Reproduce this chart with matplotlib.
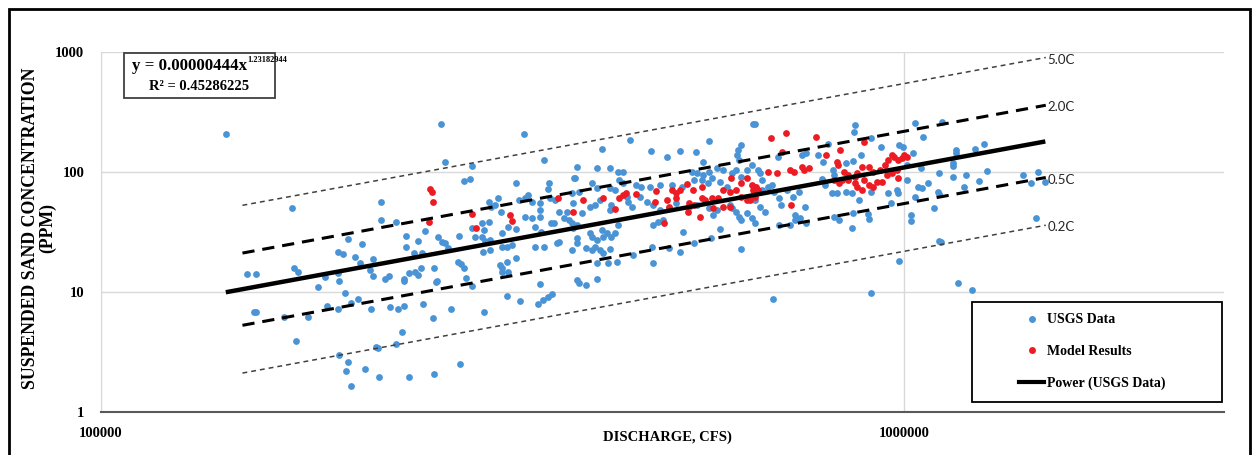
import numpy as np
import matplotlib.pyplot as plt
from matplotlib.patches import Rectangle
from matplotlib.lines import Line2D

# discharge in thousand cfs, concentration in ppm
usgs_q = np.array([
    143, 173, 152, 156, 174, 176, 186, 190, 197, 198, 197, 200, 203, 207, 211, 210, 216, 218, 218, 223,
    223, 226, 228, 155, 156, 169, 181, 175, 191, 197, 201, 205, 209, 217, 229, 198, 203, 202, 205, 213,
    220, 221, 222, 233, 237, 242, 260, 280, 259, 273, 252, 300, 290, 234, 238, 238, 261, 265, 336, 268,
    290, 356, 283, 288, 329, 361, 360, 388, 233, 240, 240, 248, 253, 263, 266, 268, 279, 245, 251, 270,
    238, 242, 246, 248, 250, 260, 262, 278, 281, 283, 285, 320, 332, 350, 355, 360, 364, 352, 290, 292,
    298, 300, 304, 298, 301, 305, 299, 305, 316, 316, 320, 321, 325, 329, 337, 344, 352, 347, 353, 347,
    356, 369, 372, 363, 366, 372, 380, 377, 367, 362, 340, 337, 331, 344, 352, 352, 312, 304, 306, 309,
    315, 329, 314, 316, 316, 320, 321, 386, 386,
    651, 648, 455, 420, 484, 506, 525, 550, 572, 561, 627, 620, 619, 623, 646, 391, 414, 430, 440, 446,
    389, 409, 414, 442, 446, 464, 470, 482, 496, 514, 528, 544, 552, 561, 572, 584, 594, 548, 560, 569,
    577, 589, 601, 611, 618, 627, 637, 386, 394, 387, 397, 406, 412, 418, 430, 436, 451, 453, 458, 432,
    430, 469, 478, 486, 496, 486, 493, 500, 510, 520, 540, 552, 572, 584, 578, 606, 611, 618, 623, 627,
    637, 646, 651, 383, 391, 406, 409, 414, 420, 421, 426, 432, 436, 440, 391, 402, 408, 412, 418, 421,
    430, 414, 428, 439, 459, 485, 486, 510, 525, 530, 548, 575, 589, 627, 391, 394, 402, 415, 387, 391,
    867, 865, 1030, 1054, 1113, 910, 803, 934, 986, 997, 1026, 657, 661, 665, 697, 745, 754, 780, 791, 814,
    818, 847, 862, 884, 789, 796, 812, 824, 847, 860, 879, 910, 954, 980, 983, 1007, 1030, 1039, 1051, 1069,
    1007, 1048, 1106, 1100, 1088, 963, 862, 900, 903, 860, 1018, 1018, 651, 665, 676, 685, 689, 651, 661, 670,
    699, 703, 715, 726, 740, 752, 731, 741, 730, 699, 720, 754, 818, 829, 986, 1106, 687, 908,
    1158, 1158, 1149, 1149, 1226, 1258, 1149, 1195, 1268, 1237, 1188, 1106, 1406, 1439, 1466, 1498, 1459,
    1110, 1165, 1215,
]) * 1000
usgs_c = np.array([
    207, 50, 14.1, 14.1, 15.9, 14.7, 11.0, 13.4, 14.4, 12.4, 21.5, 20.7, 27.6, 19.5, 25.1, 17.5, 15.3, 13.6, 18.8, 56,
    39.8, 12.8, 13.6, 6.8, 6.8, 6.2, 6.2, 3.9, 7.6, 7.2, 9.8, 8.1, 8.7, 7.2, 7.5, 3.0, 2.6, 2.2, 1.65, 2.3,
    3.5, 3.4, 1.95, 3.7, 4.6, 1.95, 2.07, 2.5, 6.1, 7.2, 7.9, 6.8, 11.2, 7.2, 7.7, 12.4, 12.1, 251, 207, 121,
    112, 126, 84, 87, 81, 81, 72, 89, 38.3, 29.3, 23.7, 26.6, 32.2, 28.7, 26.1, 25.6, 29.3, 21.1, 21.1, 23.3,
    12.8, 14.4, 14.7, 13.9, 15.9, 15.9, 12.4, 17.8, 17.1, 15.9, 13.1, 9.3, 8.4, 7.9, 8.6, 9.1, 9.6, 11.6, 34, 28.7,
    37.6, 32.8, 38.3, 28.7, 26.6, 27.1, 21.5, 22.4, 31, 23.7, 23.7, 34.8, 24.6, 33.5, 42.1, 41.4, 42.1, 34.8, 31.6, 23.7,
    23.7, 25.6, 26.1, 37.6, 37.6, 46.4, 46.4, 41.4, 58.4, 60.7, 64.3, 60.7, 58.4, 56.2, 55.1, 48.2, 60.7, 56.2, 51, 53,
    46.4, 19.2, 16.8, 15.9, 14.7, 17.8, 14.7, 22.4, 37.6,
    251, 251, 184, 156, 150, 134, 150, 147, 181, 121, 168, 153, 139, 126, 114, 110, 108, 108, 100, 100,
    89, 81, 73.5, 85.8, 81, 78, 75, 75, 78, 78, 75, 100, 98, 94, 100, 108, 104, 86, 86, 81,
    89, 82.5, 75, 98, 104, 91, 104, 66.8, 68, 55, 45.5, 51, 53, 58, 73.5, 71, 62, 56, 51, 53,
    48, 62, 56, 53, 48, 36, 38, 40, 50, 55, 51, 53, 50, 48, 44, 53, 50, 46, 42, 40,
    45.5, 41, 37.6, 40, 36, 31, 28.7, 27, 32.8, 28.7, 31, 28.7, 31, 36, 25.6, 23.3, 22.4, 23.7, 22.4, 21.1,
    22.8, 17.5, 17.5, 17.8, 20.3, 23.7, 17.5, 23.3, 21.5, 31.6, 25.6, 28.2, 33.5, 22.8, 12.6, 11.9, 11.4, 12.8, 34, 28.2,
    246, 215, 256, 195, 261, 192, 171, 162, 168, 162, 144, 104, 98, 86, 133, 139, 144, 139, 121, 104,
    94, 119, 124, 139, 87, 78, 67, 67, 68, 67, 58, 68, 67, 71, 67, 86, 62, 75, 73.5, 81,
    114, 108, 98, 68, 50, 55, 45.5, 44.7, 40.6, 34, 43.8, 39, 75, 70.8, 75, 78, 68, 58.4, 51, 46.4,
    60.7, 53, 70.8, 62, 68, 51, 43.8, 41.4, 39.8, 36.2, 36.2, 37.6, 42.1, 39.8, 18.1, 26.6, 8.7, 9.8,
    153, 144, 119, 112, 156, 171, 91, 94, 102, 84, 75, 65.5, 94, 81, 100, 82.5, 41.4,
    26.1, 11.9, 10.4,
])

model_q = np.array([
    257, 258, 259, 256, 290, 293, 323, 325, 371, 387, 398, 421, 436, 442, 446, 450, 464, 491, 490, 502,
    506, 510, 514, 520, 525, 520, 536, 545, 560, 560, 540, 548, 564, 538, 556, 576, 586, 594, 606, 578,
    594, 606, 609, 627, 637, 646, 648, 642, 651, 657, 618, 627, 637, 683, 713, 776, 892, 831, 705, 676,
    695, 720, 728, 745, 751, 760, 800, 824, 827, 842, 850, 867, 874, 886, 905, 913, 932, 946, 954, 966,
    972, 981, 992, 1000, 1009, 951, 966, 980, 983, 890, 905, 913, 924, 938, 867, 874, 886, 818, 829, 836,
    850, 723, 654,
]) * 1000
model_c = np.array([
    72, 68, 56, 38.3, 44.7, 34.1, 43.8, 39, 60.7, 46.4, 58.4, 60.7, 49, 60.7, 64.3, 66.8, 65.5, 69.4, 56.2, 37.6,
    58.4, 51, 70.8, 66.8, 70.8, 60.7, 79.4, 70.8, 75, 60.7, 55.1, 53, 58.4, 46.4, 42.1, 60.7, 60.7, 70.8, 68.1, 50,
    51, 51, 89, 81, 89, 78, 70.8, 58.4, 62, 70.8, 70.8, 62, 58.4, 192, 211, 195, 178, 153, 147, 100,
    98, 104, 100, 110, 104, 108, 139, 121, 114, 100, 94, 91, 98, 110, 110, 100, 104, 114, 126, 139,
    133, 126, 130, 139, 133, 94, 98, 104, 89, 86, 78, 75, 82.5, 82.5, 81, 75, 70.8, 86, 81, 86,
    86, 53, 75,
])

fit_a = 0.00000444
fit_b = 1.23182944
fit_r2 = 0.45286225
band_factors = [5.0, 2.0, 0.5, 0.2]
band_labels = ['5.0C', '2.0C', '0.5C', '0.2C']
band_q = np.array([150000, 1500000])

blue = '#4A94D6'
red = '#ED1C24'

plt.rcParams['font.family'] = 'Liberation Serif'
plt.rcParams['font.weight'] = 'bold'

fig = plt.figure(figsize=(12.57, 4.55), dpi=100)
ax = fig.add_axes([101 / 1257, 43 / 455, 1123 / 1257, 360 / 455])
ax.set_xscale('log')
ax.set_yscale('log')
ax.set_xlim(1e5, 2.5e6)
ax.set_ylim(1, 1000)

ax.scatter(usgs_q, usgs_c, s=24, color=blue, linewidths=0, zorder=3)
ax.scatter(model_q, model_c, s=24, color=red, linewidths=0, zorder=4)

# power trendline over the USGS data range
fit_q = np.geomspace(usgs_q.min(), usgs_q.max(), 50)
ax.plot(fit_q, fit_a * fit_q ** fit_b, color='black', lw=3.2, zorder=6, solid_capstyle='butt')

bq = np.geomspace(band_q[0], band_q[1], 50)
for f, lab in zip(band_factors, band_labels):
    if f in (2.0, 0.5):
        ax.plot(bq, f * fit_a * bq ** fit_b, color='black', lw=2.2, dashes=(4, 2.6), zorder=5)
    else:
        ax.plot(bq, f * fit_a * bq ** fit_b, color='#404040', lw=1.1, dashes=(3.2, 2.6), zorder=5)
    ax.annotate(lab, (band_q[1], f * fit_a * band_q[1] ** fit_b), xytext=(1, -1.5),
                textcoords='offset points', ha='left', va='center', fontsize=9.5,
                family='Lato', fontweight='normal', color='#262626', zorder=7)

ax.set_xticks([1e5, 1e6])
ax.set_xticklabels(['100000', '1000000'])
ax.set_yticks([1, 10, 100, 1000])
ax.set_yticklabels(['1', '10', '100', '1000'])
ax.minorticks_off()
ax.tick_params(axis='both', length=0, labelsize=10.5)
ax.tick_params(axis='y', pad=12)
ax.tick_params(axis='x', pad=11)
ax.grid(True, which='major', color='#d9d9d9', lw=1)
ax.set_axisbelow(True)
for s in ['top', 'right']:
    ax.spines[s].set_visible(False)
ax.spines['left'].set_color('#d9d9d9')
ax.spines['bottom'].set_color('#595959')
ax.spines['bottom'].set_linewidth(1.5)

fig.text(667 / 1257, 1 - 437 / 455, 'DISCHARGE, CFS)', ha='center', va='center', fontsize=10.5)
fig.text(39 / 1257, 1 - 228 / 455, 'SUSPENDED SAND CONCENTRATION\n(PPM)', ha='center', va='center',
         rotation=90, fontsize=12.8, linespacing=1.05)

# equation box
ax.add_patch(Rectangle((0.0205, 0.8722), 0.1345, 0.125, transform=ax.transAxes, fill=True,
                       facecolor='white', edgecolor='#404040', lw=1.3, zorder=8))
ax.text(0.1300, 0.9625, 'y = 0.00000444x', transform=ax.transAxes,
        ha='right', va='center', fontsize=12.2, zorder=9)
ax.text(0.1305, 0.9775, '%.8f' % fit_b, transform=ax.transAxes,
        ha='left', va='center', fontsize=6, zorder=9)
ax.text(0.0877, 0.9028, 'R² = %.8f' % fit_r2, transform=ax.transAxes,
        ha='center', va='center', fontsize=10.5, zorder=9)

# legend
lx, ly, lw_, lh = 0.7756, 0.028, 0.2226, 0.2778
ax.add_patch(Rectangle((lx, ly), lw_, lh, transform=ax.transAxes, facecolor='white',
                       edgecolor='black', lw=1.3, zorder=8))
handles = [
    Line2D([], [], ls='', marker='o', ms=5, color=blue, markeredgewidth=0),
    Line2D([], [], ls='', marker='o', ms=5, color=red, markeredgewidth=0),
    Line2D([], [], color='black', lw=3),
]
leg = ax.legend(handles, ['USGS Data', 'Model Results', 'Power (USGS Data)'],
                loc='center', bbox_to_anchor=(lx + lw_ / 2 - 0.004, ly + lh / 2), frameon=False,
                fontsize=10, handlelength=1.8, handletextpad=0.2, labelspacing=1.35)
leg.set_zorder(9)

fig.patches.append(Rectangle((9 / 1257, -0.1), 1241 / 1257, 1 - 9 / 455 + 0.1,
                             transform=fig.transFigure, fill=False, edgecolor='black', lw=2))

fig.savefig('out.png', dpi=100)
